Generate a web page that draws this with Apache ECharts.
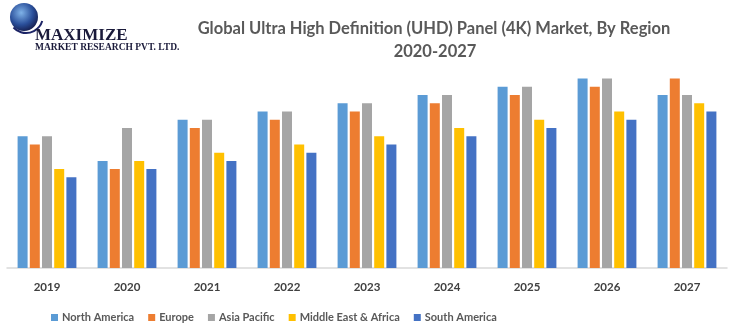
<!DOCTYPE html>
<html><head><meta charset="utf-8">
<script src="https://cdn.jsdelivr.net/npm/echarts@6/dist/echarts.min.js"></script>
<style>html,body{margin:0;padding:0;background:#fff}#c{width:730px;height:333px}</style>
</head><body><div id="c"></div>
<script>
const categories = ['2019','2020','2021','2022','2023','2024','2025','2026','2027'];
const northAmerica = [16,13,18,19,20,21,22,23,21];
const europe       = [15,12,17,18,19,20,21,22,23];
const asiaPacific  = [16,17,18,19,20,21,22,23,21];
const middleEast   = [12,13,14,15,16,17,18,19,20];
const southAmerica = [11,12,13,14,15,16,17,18,19];
const seriesNames = ['North America','Europe','Asia Pacific','Middle East & Africa','South America'];
const colors = ['#5B9BD5','#ED7D31','#A5A5A5','#FFC000','#4472C4'];
const titleLines = ['Global Ultra High Definition (UHD) Panel (4K) Market, By Region','2020-2027'];

const chart = echarts.init(document.getElementById('c'));
const data = [northAmerica, europe, asiaPacific, middleEast, southAmerica];
const FONT = 'Lato, "Liberation Sans", sans-serif';
chart.setOption({
  animation: false,
  color: colors,
  grid: {left: 7, right: 3, top: 62, bottom: 65},
  xAxis: {
    type: 'category', data: categories,
    axisLine: {lineStyle: {color: '#d9d9d9', width: 1.5}},
    axisTick: {show: false},
    axisLabel: {color: '#404040', fontWeight: 'bold', fontSize: 11.5, fontFamily: FONT, margin: 13}
  },
  yAxis: {type: 'value', min: 0, max: 25, show: false, splitLine: {show: false}},
  legend: {
    data: seriesNames, left: 46, top: 307, icon: 'rect', itemWidth: 7, itemHeight: 7, itemGap: 14,
    textStyle: {color: '#595959', fontWeight: 'bold', fontSize: 11, fontFamily: FONT, padding: [0,0,0,-1]}
  },
  series: seriesNames.map((n, i) => ({
    name: n, type: 'bar', data: data[i], barWidth: 10, barGap: '22%'
  })),
  graphic: [
    {type: 'text', x: 434, y: 20, style: {text: titleLines[0], textAlign: 'center', fill: '#595959', font: 'bold 16.5px ' + FONT}},
    {type: 'text', x: 435, y: 43, style: {text: titleLines[1], textAlign: 'center', fill: '#595959', font: 'bold 16.5px ' + FONT}},
    {type: 'circle', shape: {cx: 24, cy: 17, r: 14}, style: {fill: new echarts.graphic.RadialGradient(0.4, 0.35, 0.7, [{offset: 0, color: '#7fb2e8'}, {offset: 0.6, color: '#2a4f9a'}, {offset: 1, color: '#141b4a'}])}},
    {type: 'arc', shape: {cx: 26, cy: 16, r: 17, startAngle: 0.3, endAngle: 2.4}, style: {stroke: '#1c2466', lineWidth: 2, fill: null}},
    {type: 'text', x: 35, y: 27, style: {text: 'MAXIMIZE', fill: '#1a1a3a', font: 'bold 17px "Liberation Serif", serif'}},
    {type: 'text', x: 35, y: 43, style: {text: 'MARKET RESEARCH PVT. LTD.', fill: '#1a1a3a', font: 'bold 9.5px "Liberation Serif", serif'}}
  ]
});
</script></body></html>
